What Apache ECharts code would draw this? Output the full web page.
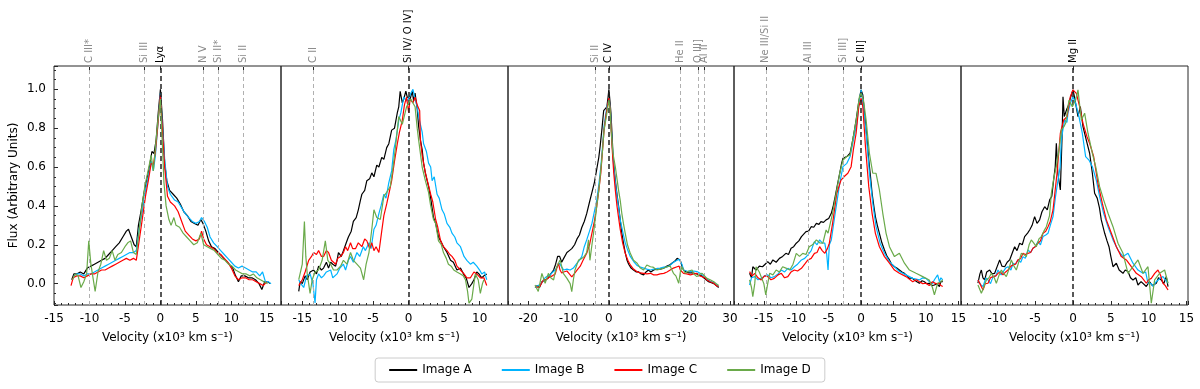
<!DOCTYPE html>
<html><head><meta charset="utf-8">
<script src="https://cdn.jsdelivr.net/npm/echarts@6/dist/echarts.min.js"></script>
<style>html,body{margin:0;padding:0;background:#fff}#c{width:1200px;height:389px}</style>
</head><body><div id="c"></div>
<script>
// ---------- data (velocity x10^3 km/s, normalised flux) ----------
const seriesNames = ['Image A','Image B','Image C','Image D'];
const seriesColors = ['#000000','#00b4ff','#ff0000','#6aaa4a'];

// Panel 1: Ly alpha
const p1A = [[-12.5,0.02],[-12.2,0.05],[-11.8,0.05],[-11.3,0.06],[-10.8,0.05],[-10.3,0.08],[-9.8,0.09],[-9.3,0.10],[-8.8,0.11],[-8.3,0.12],[-7.8,0.13],[-7.3,0.15],[-6.8,0.17],[-6.3,0.19],[-5.8,0.21],[-5.3,0.24],[-4.8,0.27],[-4.5,0.28],[-4.1,0.24],[-3.7,0.20],[-3.4,0.19],[-3.1,0.30],[-2.7,0.38],[-2.3,0.47],[-1.9,0.54],[-1.5,0.61],[-1.2,0.68],[-0.9,0.67],[-0.6,0.74],[-0.3,0.88],[0,1.0],[0.3,0.84],[0.6,0.62],[0.9,0.53],[1.3,0.48],[1.8,0.46],[2.3,0.44],[2.8,0.41],[3.3,0.37],[3.8,0.35],[4.3,0.32],[4.8,0.31],[5.3,0.30],[5.7,0.33],[6.0,0.31],[6.4,0.27],[6.8,0.22],[7.2,0.19],[7.7,0.18],[8.2,0.16],[8.7,0.14],[9.2,0.12],[9.7,0.10],[10.2,0.08],[10.6,0.04],[11.0,0.01],[11.4,0.04],[11.9,0.04],[12.4,0.03],[12.9,0.03],[13.4,0.02],[13.9,0.00],[14.3,-0.03],[14.7,0.01],[15.1,0.01],[15.5,0.00]];
const p1B = [[-12.2,0.04],[-11.8,0.05],[-11.3,0.05],[-10.8,0.04],[-10.3,0.05],[-9.8,0.05],[-9.3,0.06],[-8.8,0.07],[-8.3,0.08],[-7.8,0.09],[-7.3,0.10],[-6.8,0.11],[-6.3,0.12],[-5.8,0.13],[-5.3,0.14],[-4.8,0.15],[-4.3,0.16],[-3.8,0.16],[-3.4,0.17],[-3.0,0.28],[-2.6,0.36],[-2.1,0.48],[-1.7,0.55],[-1.3,0.63],[-1.0,0.58],[-0.7,0.66],[-0.4,0.80],[0,0.98],[0.3,0.80],[0.6,0.64],[1.0,0.50],[1.4,0.46],[2.0,0.43],[2.5,0.42],[3.0,0.39],[3.5,0.36],[4.0,0.34],[4.5,0.32],[5.0,0.31],[5.5,0.32],[5.8,0.34],[6.2,0.32],[6.6,0.29],[7.0,0.24],[7.5,0.21],[8.0,0.19],[8.5,0.17],[9.0,0.15],[9.5,0.13],[10.0,0.11],[10.5,0.09],[11.0,0.08],[11.5,0.09],[12.0,0.08],[12.5,0.07],[13.0,0.06],[13.5,0.06],[14.0,0.04],[14.4,0.06],[14.8,0.01],[15.2,0.01],[15.6,0.00]];
const p1C = [[-12.6,-0.01],[-12.3,0.03],[-11.8,0.04],[-11.3,0.04],[-10.8,0.03],[-10.3,0.04],[-9.8,0.05],[-9.3,0.05],[-8.8,0.06],[-8.3,0.07],[-7.8,0.07],[-7.3,0.08],[-6.8,0.09],[-6.3,0.10],[-5.8,0.11],[-5.3,0.12],[-4.8,0.13],[-4.3,0.12],[-3.8,0.13],[-3.4,0.12],[-3.0,0.22],[-2.6,0.32],[-2.1,0.45],[-1.7,0.53],[-1.3,0.62],[-1.0,0.61],[-0.7,0.68],[-0.4,0.80],[0,0.97],[0.3,0.78],[0.6,0.60],[1.0,0.45],[1.4,0.42],[2.0,0.40],[2.5,0.37],[3.0,0.32],[3.5,0.27],[4.0,0.25],[4.5,0.23],[5.0,0.22],[5.5,0.23],[5.8,0.27],[6.1,0.23],[6.5,0.20],[7.0,0.19],[7.5,0.18],[8.0,0.16],[8.5,0.15],[9.0,0.13],[9.5,0.11],[10.0,0.08],[10.5,0.04],[11.0,0.02],[11.5,0.03],[12.0,0.03],[12.5,0.02],[13.0,0.02],[13.5,0.01],[14.0,0.00],[14.5,-0.01],[15.0,0.01]];
const p1D = [[-12.4,0.02],[-12.0,0.05],[-11.6,0.04],[-11.2,-0.02],[-10.8,0.01],[-10.4,0.05],[-10.1,0.22],[-9.8,0.10],[-9.5,0.03],[-9.2,-0.04],[-8.8,0.06],[-8.4,0.10],[-8.0,0.17],[-7.6,0.12],[-7.2,0.13],[-6.8,0.17],[-6.4,0.12],[-6.0,0.15],[-5.5,0.16],[-5.0,0.19],[-4.6,0.21],[-4.2,0.22],[-3.8,0.16],[-3.4,0.15],[-3.0,0.27],[-2.6,0.40],[-2.2,0.50],[-1.8,0.57],[-1.3,0.66],[-1.0,0.58],[-0.7,0.70],[-0.4,0.82],[0,0.95],[0.3,0.70],[0.5,0.52],[0.8,0.40],[1.2,0.33],[1.5,0.30],[1.9,0.34],[2.2,0.30],[2.7,0.29],[3.2,0.26],[3.7,0.24],[4.2,0.22],[4.7,0.20],[5.2,0.21],[5.7,0.26],[6.1,0.20],[6.6,0.19],[7.1,0.18],[7.6,0.17],[8.1,0.15],[8.6,0.13],[9.1,0.12],[9.6,0.10],[10.1,0.09],[10.6,0.07],[11.1,0.06],[11.6,0.05],[12.1,0.05],[12.6,0.04],[13.1,0.05],[13.6,0.03],[14.1,0.02],[14.6,0.01],[15.1,0.00]];

// Panel 2: Si IV / O IV]
const p2A = [[-15.5,-0.04],[-15.3,0.01],[-15.0,0.0],[-14.6,0.04],[-14.3,0.02],[-13.9,0.06],[-13.4,0.07],[-13.0,0.05],[-12.7,0.09],[-12.3,0.07],[-12.0,0.08],[-11.6,0.11],[-11.3,0.08],[-11.0,0.11],[-10.7,0.10],[-10.3,0.09],[-10.1,0.12],[-9.9,0.16],[-9.5,0.14],[-9.2,0.17],[-8.8,0.21],[-8.5,0.24],[-8.1,0.27],[-7.8,0.32],[-7.4,0.34],[-7.1,0.38],[-6.8,0.43],[-6.6,0.46],[-6.2,0.48],[-5.9,0.53],[-5.5,0.54],[-5.2,0.57],[-4.9,0.55],[-4.5,0.61],[-4.2,0.60],[-3.8,0.65],[-3.5,0.64],[-3.1,0.70],[-2.8,0.72],[-2.4,0.79],[-2.0,0.80],[-1.6,0.88],[-1.4,0.91],[-1.2,0.99],[-0.9,0.93],[-0.7,0.95],[-0.4,0.99],[-0.2,0.96],[0.2,0.95],[0.5,0.99],[0.7,0.94],[0.9,0.98],[1.2,0.90],[1.4,0.81],[1.65,0.74],[1.9,0.69],[2.1,0.62],[2.35,0.57],[2.6,0.53],[2.8,0.50],[3.1,0.44],[3.5,0.34],[3.8,0.31],[4.2,0.24],[4.5,0.22],[4.9,0.19],[5.4,0.16],[5.9,0.12],[6.3,0.11],[6.8,0.07],[7.3,0.08],[7.8,0.045],[8.1,0.03],[8.5,-0.02],[8.9,0.0],[9.2,0.02],[9.6,0.06],[9.9,0.05],[10.3,0.03],[10.6,0.04],[11.0,0.05]];
const p2B = [[-15.5,0.02],[-15.2,0.0],[-14.8,-0.02],[-14.4,0.04],[-13.9,0.05],[-13.5,0.0],[-13.2,-0.10],[-13.0,0.02],[-12.7,0.05],[-12.3,0.03],[-12.0,0.04],[-11.6,0.06],[-11.0,0.07],[-10.7,0.03],[-10.1,0.05],[-9.7,0.08],[-9.2,0.10],[-8.9,0.07],[-8.5,0.12],[-8.2,0.14],[-7.8,0.11],[-7.3,0.16],[-6.9,0.14],[-6.4,0.19],[-6.1,0.17],[-5.6,0.21],[-5.3,0.18],[-4.9,0.28],[-4.6,0.30],[-4.2,0.36],[-3.9,0.40],[-3.5,0.46],[-3.2,0.44],[-2.8,0.52],[-2.4,0.58],[-2.1,0.69],[-1.8,0.74],[-1.4,0.84],[-1.1,0.88],[-0.7,0.96],[-0.3,0.94],[0,0.95],[0.3,0.98],[0.6,1.0],[0.9,0.95],[1.2,0.91],[1.4,0.86],[1.65,0.82],[1.9,0.78],[2.1,0.72],[2.5,0.68],[2.8,0.62],[3.1,0.60],[3.3,0.53],[3.6,0.55],[4.0,0.46],[4.3,0.44],[4.7,0.38],[5.0,0.36],[5.4,0.31],[5.8,0.29],[6.1,0.26],[6.5,0.24],[6.8,0.21],[7.3,0.19],[7.8,0.14],[8.2,0.12],[8.7,0.10],[9.1,0.11],[9.6,0.09],[10.0,0.07],[10.3,0.05],[10.7,0.06],[11.0,0.02]];
const p2C = [[-15.5,-0.01],[-15.0,0.02],[-14.6,0.06],[-14.1,0.12],[-13.7,0.14],[-13.4,0.16],[-13.0,0.15],[-12.7,0.17],[-12.3,0.14],[-12.0,0.14],[-11.6,0.17],[-11.3,0.16],[-10.9,0.12],[-10.3,0.10],[-10.0,0.13],[-9.6,0.14],[-9.2,0.16],[-8.9,0.19],[-8.6,0.17],[-8.2,0.21],[-7.9,0.18],[-7.5,0.18],[-7.1,0.21],[-6.6,0.19],[-6.2,0.23],[-5.9,0.22],[-5.5,0.18],[-5.2,0.21],[-4.9,0.17],[-4.6,0.19],[-4.2,0.16],[-3.8,0.27],[-3.5,0.35],[-3.1,0.41],[-2.8,0.46],[-2.4,0.53],[-2.0,0.63],[-1.6,0.72],[-1.3,0.78],[-0.9,0.84],[-0.6,0.92],[-0.3,0.96],[0.0,0.88],[0.2,0.95],[0.6,0.93],[0.9,0.96],[1.2,0.92],[1.55,0.89],[1.65,0.74],[1.9,0.66],[2.35,0.57],[2.7,0.52],[3.1,0.46],[3.4,0.42],[3.8,0.33],[4.1,0.29],[4.5,0.22],[4.9,0.19],[5.4,0.17],[5.8,0.15],[6.1,0.14],[6.5,0.12],[6.8,0.09],[7.3,0.07],[7.8,0.05],[8.2,0.03],[8.7,0.03],[9.2,0.06],[9.6,0.05],[10.1,0.03],[10.6,0.03],[11.0,-0.01]];
const p2D = [[-15.5,0.02],[-15.0,0.10],[-14.7,0.32],[-14.5,0.14],[-14.3,0.05],[-13.9,-0.05],[-13.6,0.02],[-13.2,0.06],[-12.7,0.07],[-12.2,0.12],[-11.75,0.22],[-11.4,0.12],[-11.0,0.10],[-10.6,0.07],[-10.1,0.07],[-9.6,0.09],[-9.2,0.12],[-8.7,0.10],[-8.2,0.16],[-7.8,0.12],[-7.3,0.10],[-6.8,0.08],[-6.35,0.02],[-6.0,0.10],[-5.6,0.16],[-5.2,0.28],[-4.9,0.38],[-4.5,0.34],[-4.0,0.33],[-3.5,0.45],[-3.1,0.47],[-2.6,0.50],[-2.2,0.60],[-1.9,0.69],[-1.4,0.86],[-0.9,0.82],[-0.5,0.88],[-0.3,0.91],[0.3,0.95],[0.6,0.93],[0.9,0.91],[1.2,0.80],[1.4,0.74],[1.9,0.60],[2.35,0.53],[2.8,0.47],[3.1,0.40],[3.5,0.33],[3.8,0.31],[4.2,0.22],[4.6,0.20],[4.9,0.16],[5.3,0.13],[5.6,0.10],[6.0,0.09],[6.35,0.07],[6.8,0.06],[7.3,0.05],[7.7,0.04],[8.0,0.02],[8.3,-0.04],[8.5,-0.10],[8.9,-0.08],[9.2,0.0],[9.4,0.05],[9.8,0.02],[10.1,-0.05],[10.4,0.0],[10.6,0.02]];

// Panel 3: C IV
const p3A = [[-18.3,-0.02],[-17.7,-0.01],[-17.2,-0.02],[-16.6,0.01],[-16.2,0.02],[-15.6,0.02],[-15.0,0.03],[-14.4,0.05],[-13.7,0.07],[-13.2,0.10],[-12.7,0.14],[-12.2,0.14],[-11.7,0.11],[-11.2,0.13],[-10.4,0.16],[-9.8,0.17],[-9.2,0.18],[-8.5,0.20],[-7.9,0.23],[-7.3,0.25],[-6.7,0.29],[-6.1,0.32],[-5.5,0.36],[-4.8,0.42],[-4.2,0.47],[-3.6,0.52],[-3.0,0.59],[-2.5,0.65],[-2.15,0.71],[-1.7,0.80],[-1.3,0.89],[-0.9,0.90],[-0.5,0.91],[-0.2,0.96],[0,1.0],[0.3,0.93],[0.5,0.88],[0.8,0.76],[1.0,0.67],[1.3,0.59],[1.6,0.53],[2.0,0.46],[2.4,0.40],[2.8,0.33],[3.2,0.26],[3.6,0.21],[4.05,0.16],[4.5,0.12],[4.9,0.10],[5.5,0.08],[6.1,0.07],[6.8,0.06],[7.4,0.06],[8.0,0.05],[8.6,0.045],[9.2,0.06],[9.8,0.07],[10.4,0.06],[11.1,0.07],[11.9,0.075],[12.7,0.075],[13.6,0.08],[14.4,0.09],[15.0,0.095],[15.6,0.105],[16.3,0.115],[16.9,0.13],[17.3,0.135],[17.7,0.12],[18.1,0.09],[18.5,0.07],[19.2,0.06],[19.8,0.055],[20.6,0.055],[21.0,0.055],[21.8,0.05],[22.3,0.045],[23.0,0.04],[23.5,0.03],[24.1,0.02],[24.7,0.01],[25.4,0.005],[26.0,0.0],[26.6,-0.01],[27.2,-0.02]];
const p3B = [[-18.3,-0.02],[-17.6,-0.01],[-17.0,-0.005],[-16.4,0.01],[-15.8,0.03],[-15.2,0.04],[-14.6,0.045],[-13.9,0.06],[-13.3,0.07],[-12.7,0.09],[-12.2,0.105],[-11.7,0.085],[-11.2,0.07],[-10.4,0.075],[-9.6,0.07],[-8.8,0.08],[-7.9,0.105],[-7.3,0.12],[-6.7,0.14],[-6.1,0.19],[-5.5,0.225],[-4.8,0.27],[-4.2,0.31],[-3.6,0.37],[-3.0,0.43],[-2.5,0.51],[-2.0,0.60],[-1.6,0.70],[-1.2,0.81],[-0.8,0.87],[-0.5,0.91],[-0.2,0.93],[0,0.95],[0.3,0.91],[0.5,0.84],[0.8,0.72],[1.2,0.60],[1.6,0.52],[2.0,0.45],[2.4,0.39],[2.8,0.33],[3.4,0.27],[4.05,0.21],[4.7,0.17],[5.3,0.14],[6.1,0.115],[6.9,0.095],[7.8,0.085],[8.6,0.08],[9.4,0.075],[10.3,0.07],[11.1,0.075],[11.9,0.078],[12.7,0.08],[13.6,0.085],[14.4,0.085],[15.2,0.095],[16.0,0.11],[16.9,0.12],[17.4,0.125],[17.7,0.12],[18.1,0.10],[18.5,0.07],[19.3,0.065],[20.2,0.062],[21.0,0.065],[21.8,0.062],[22.5,0.055],[23.1,0.045],[23.8,0.035],[24.3,0.022],[25.1,0.012],[26.0,0.005],[26.6,-0.005],[27.2,-0.015]];
const p3C = [[-18.3,-0.015],[-17.5,-0.02],[-17.0,-0.01],[-16.2,0.02],[-15.6,0.02],[-14.6,0.035],[-14.0,0.04],[-13.3,0.05],[-12.9,0.08],[-12.5,0.105],[-12.1,0.07],[-11.7,0.055],[-11.2,0.06],[-10.4,0.065],[-9.8,0.05],[-9.2,0.035],[-8.6,0.05],[-7.9,0.07],[-7.1,0.09],[-6.4,0.12],[-5.5,0.156],[-4.8,0.2],[-4.2,0.26],[-3.6,0.32],[-3.0,0.40],[-2.5,0.48],[-2.0,0.57],[-1.6,0.68],[-1.2,0.79],[-0.7,0.87],[-0.3,0.92],[0,0.955],[0.3,0.90],[0.5,0.82],[0.8,0.70],[1.2,0.57],[1.6,0.48],[2.0,0.40],[2.4,0.34],[2.8,0.28],[3.4,0.21],[4.05,0.156],[4.7,0.12],[5.3,0.096],[6.1,0.075],[6.9,0.062],[7.8,0.055],[8.6,0.053],[9.4,0.05],[10.3,0.053],[11.1,0.045],[11.9,0.045],[12.7,0.05],[13.6,0.053],[14.4,0.06],[15.2,0.07],[16.0,0.08],[16.9,0.087],[17.4,0.09],[17.7,0.07],[18.1,0.06],[18.5,0.053],[19.3,0.05],[20.2,0.045],[21.0,0.05],[21.8,0.053],[22.5,0.04],[23.1,0.036],[23.8,0.03],[24.3,0.019],[25.1,0.01],[26.0,0.002],[26.6,-0.01],[27.2,-0.015]];
const p3D = [[-18.3,-0.007],[-17.5,-0.04],[-16.6,0.053],[-15.8,0.002],[-15.0,0.053],[-14.4,0.03],[-13.7,0.019],[-13.3,0.06],[-12.9,0.087],[-12.1,0.122],[-11.7,0.09],[-11.3,0.053],[-10.4,0.027],[-10.0,0.03],[-9.6,0.0],[-9.2,-0.041],[-8.8,0.02],[-8.4,0.07],[-7.5,0.122],[-6.7,0.13],[-6.1,0.14],[-5.5,0.16],[-5.05,0.225],[-4.7,0.12],[-4.2,0.2],[-3.8,0.26],[-3.0,0.40],[-2.5,0.48],[-2.0,0.585],[-1.6,0.68],[-1.2,0.79],[-0.5,0.877],[0,0.945],[0.3,0.90],[0.5,0.80],[1.0,0.671],[1.6,0.60],[2.0,0.54],[2.4,0.48],[2.8,0.43],[3.2,0.362],[3.6,0.31],[4.05,0.259],[4.6,0.2],[5.3,0.156],[6.1,0.12],[7.0,0.105],[7.8,0.08],[8.6,0.07],[9.4,0.096],[10.3,0.087],[10.9,0.085],[11.9,0.07],[12.7,0.075],[13.6,0.079],[14.4,0.087],[15.2,0.09],[16.0,0.053],[16.6,0.04],[17.3,0.002],[17.7,0.06],[18.1,0.087],[18.5,0.08],[18.9,0.053],[19.8,0.065],[20.6,0.07],[21.0,0.05],[21.8,0.036],[22.6,0.05],[23.1,0.053],[23.7,0.04],[24.3,0.027],[25.1,0.02],[26.0,0.01],[26.6,0.0],[27.2,-0.01]];

// Panel 4: C III]
const p4A = [[-17.2,0.053],[-16.9,0.03],[-16.7,0.087],[-16.2,0.07],[-15.7,0.09],[-15.2,0.087],[-14.8,0.1],[-14.4,0.113],[-14.0,0.1],[-13.6,0.122],[-13.1,0.11],[-12.6,0.13],[-12.1,0.14],[-11.6,0.156],[-11.2,0.15],[-10.8,0.182],[-10.4,0.19],[-10.0,0.208],[-9.6,0.22],[-9.2,0.242],[-8.9,0.235],[-8.5,0.268],[-8.1,0.27],[-7.7,0.293],[-7.3,0.29],[-6.9,0.31],[-6.5,0.305],[-6.2,0.319],[-5.8,0.315],[-5.4,0.328],[-5.0,0.335],[-4.6,0.362],[-4.3,0.40],[-4.0,0.448],[-3.7,0.5],[-3.3,0.568],[-3.0,0.62],[-2.8,0.645],[-2.5,0.64],[-2.2,0.654],[-1.95,0.65],[-1.7,0.671],[-1.4,0.72],[-1.2,0.756],[-0.77,0.842],[-0.36,0.937],[0,0.997],[0.26,0.971],[0.67,0.825],[0.95,0.73],[1.18,0.636],[1.45,0.55],[1.69,0.465],[2.0,0.39],[2.2,0.345],[2.5,0.3],[2.82,0.259],[3.2,0.21],[3.6,0.173],[4.0,0.14],[4.37,0.122],[4.7,0.1],[5.14,0.087],[5.5,0.08],[5.9,0.07],[6.3,0.06],[6.68,0.053],[7.1,0.04],[7.45,0.027],[7.8,0.03],[8.22,0.019],[8.6,0.01],[8.99,0.002],[9.4,0.015],[9.76,0.01],[10.1,0.0],[10.5,0.002],[10.9,-0.01],[11.3,-0.007],[11.7,0.0],[12.07,-0.015],[12.3,0.01],[12.58,0.01]];
const p4B = [[-17.2,-0.007],[-16.9,0.03],[-16.4,0.036],[-15.9,0.02],[-15.4,0.027],[-14.9,0.04],[-14.4,0.045],[-13.9,0.03],[-13.4,0.036],[-12.8,0.05],[-12.3,0.07],[-11.8,0.06],[-11.3,0.079],[-10.8,0.07],[-10.3,0.087],[-9.8,0.1],[-9.2,0.122],[-8.7,0.13],[-8.2,0.148],[-7.7,0.17],[-7.2,0.216],[-6.8,0.2],[-6.4,0.225],[-6.0,0.21],[-5.6,0.208],[-5.3,0.15],[-5.1,0.07],[-4.9,0.2],[-4.6,0.225],[-4.0,0.362],[-3.3,0.516],[-2.8,0.602],[-2.2,0.619],[-1.7,0.654],[-1.2,0.739],[-0.67,0.825],[-0.26,0.945],[0,0.997],[0.36,0.911],[0.77,0.774],[1.28,0.568],[1.8,0.413],[2.3,0.293],[2.93,0.208],[3.6,0.156],[4.37,0.113],[5.14,0.087],[5.9,0.062],[6.9,0.045],[7.96,0.027],[8.99,0.019],[9.5,0.03],[10.0,0.027],[10.5,0.01],[11.0,0.0],[11.3,0.02],[11.8,0.045],[12.07,0.01],[12.3,0.03],[12.58,0.019]];
const p4C = [[-17.2,0.062],[-16.8,0.04],[-16.4,0.053],[-15.9,0.03],[-15.4,0.019],[-14.9,0.04],[-14.4,0.036],[-13.9,0.02],[-13.4,0.027],[-12.8,0.045],[-12.3,0.053],[-11.8,0.03],[-11.3,0.036],[-10.8,0.06],[-10.3,0.07],[-9.8,0.065],[-9.2,0.079],[-8.7,0.1],[-8.2,0.122],[-7.7,0.13],[-7.2,0.156],[-6.8,0.16],[-6.4,0.19],[-6.0,0.17],[-5.6,0.156],[-5.2,0.18],[-4.9,0.208],[-4.4,0.31],[-3.75,0.465],[-3.1,0.533],[-2.6,0.551],[-2.05,0.568],[-1.54,0.602],[-1.2,0.688],[-0.77,0.774],[-0.36,0.911],[0,0.954],[0.26,0.911],[0.67,0.705],[1.18,0.499],[1.69,0.362],[2.2,0.259],[2.82,0.19],[3.6,0.139],[4.37,0.105],[5.14,0.07],[5.9,0.053],[6.93,0.036],[7.96,0.01],[8.5,0.02],[8.99,0.01],[9.5,0.0],[10.0,0.002],[10.5,-0.01],[11.0,0.01],[11.5,0.0],[12.07,0.002],[12.3,-0.01],[12.58,-0.015]];
const p4D = [[-17.2,0.019],[-16.9,-0.02],[-16.7,-0.067],[-16.4,0.0],[-16.2,0.087],[-15.7,0.06],[-15.4,0.053],[-15.0,0.0],[-14.7,-0.058],[-14.4,0.0],[-14.1,0.053],[-13.6,0.045],[-13.1,0.07],[-12.6,0.06],[-12.1,0.087],[-11.6,0.08],[-11.0,0.07],[-10.5,0.1],[-10.0,0.156],[-9.5,0.14],[-9.0,0.156],[-8.5,0.15],[-8.0,0.19],[-7.5,0.2],[-6.9,0.225],[-6.4,0.21],[-5.9,0.208],[-5.4,0.276],[-5.1,0.26],[-4.9,0.259],[-4.4,0.362],[-3.85,0.465],[-3.3,0.568],[-2.8,0.636],[-2.2,0.654],[-1.7,0.662],[-1.2,0.756],[-0.67,0.859],[-0.26,0.962],[0,0.979],[0.36,0.945],[0.77,0.842],[1.28,0.671],[1.8,0.568],[2.3,0.568],[2.82,0.482],[3.34,0.362],[3.85,0.259],[4.37,0.19],[5.14,0.139],[5.9,0.156],[6.68,0.105],[7.45,0.07],[8.47,0.053],[9.5,0.036],[10.5,0.019],[11.0,-0.02],[11.3,-0.058],[11.8,0.002],[12.3,0.01],[12.58,0.019]];

// Panel 5: Mg II
const p5A = [[-12.56,0.002],[-12.3,0.05],[-12.11,0.07],[-11.9,0.03],[-11.67,0.019],[-11.4,0.06],[-11.01,0.07],[-10.7,0.05],[-10.35,0.053],[-10.0,0.09],[-9.69,0.122],[-9.4,0.09],[-9.03,0.087],[-8.7,0.11],[-8.37,0.122],[-8.0,0.16],[-7.71,0.19],[-7.4,0.17],[-7.05,0.208],[-6.7,0.2],[-6.39,0.242],[-6.0,0.26],[-5.73,0.276],[-5.4,0.3],[-5.07,0.345],[-4.75,0.31],[-4.41,0.328],[-4.1,0.37],[-3.74,0.396],[-3.4,0.38],[-3.08,0.431],[-2.8,0.45],[-2.56,0.533],[-2.35,0.6],[-2.2,0.722],[-2.0,0.568],[-1.67,0.482],[-1.45,0.75],[-1.32,0.962],[-1.15,0.86],[-0.97,0.859],[-0.8,0.9],[-0.66,0.911],[-0.35,0.954],[-0.15,0.98],[0,0.997],[0.2,0.96],[0.35,0.928],[0.66,0.859],[0.97,0.911],[1.32,0.808],[1.76,0.739],[2.2,0.671],[2.56,0.568],[2.86,0.465],[3.2,0.44],[3.5,0.39],[3.74,0.328],[4.19,0.259],[4.5,0.22],[4.76,0.19],[5.0,0.14],[5.29,0.087],[5.73,0.105],[6.1,0.07],[6.61,0.053],[6.9,0.07],[7.27,0.062],[7.6,0.03],[7.93,0.019],[8.3,0.03],[8.59,-0.007],[9.0,0.01],[9.25,0.01],[9.69,-0.015],[10.1,0.01],[10.5,-0.01],[11.01,0.002],[11.3,0.03],[11.67,0.019],[12.0,0.0],[12.33,0.036],[12.56,-0.015]];
const p5B = [[-12.56,0.019],[-12.2,-0.005],[-11.89,-0.015],[-11.5,0.03],[-11.23,0.019],[-10.9,0.0],[-10.57,0.036],[-10.2,0.04],[-9.91,0.07],[-9.5,0.045],[-9.25,0.053],[-8.9,0.08],[-8.59,0.087],[-8.2,0.07],[-7.93,0.105],[-7.6,0.1],[-7.27,0.122],[-6.9,0.11],[-6.61,0.139],[-6.3,0.13],[-5.95,0.173],[-5.6,0.16],[-5.29,0.182],[-5.0,0.19],[-4.63,0.216],[-4.3,0.2],[-3.96,0.242],[-3.6,0.25],[-3.3,0.259],[-3.0,0.3],[-2.64,0.345],[-2.3,0.45],[-1.98,0.533],[-1.7,0.6],[-1.54,0.739],[-1.3,0.8],[-1.1,0.842],[-0.8,0.83],[-0.66,0.877],[-0.35,0.928],[0,0.962],[0.35,0.928],[0.79,0.859],[1.23,0.774],[1.67,0.654],[2.11,0.636],[2.56,0.602],[3.08,0.533],[3.52,0.448],[4.05,0.362],[4.63,0.293],[5.29,0.225],[5.95,0.173],[6.61,0.139],[7.27,0.156],[7.93,0.105],[8.59,0.07],[9.25,0.053],[9.6,0.06],[9.91,0.002],[10.35,0.0],[10.57,-0.015],[11.0,0.01],[11.23,0.019],[11.6,0.03],[11.89,0.036],[12.2,0.02],[12.56,0.002]];
const p5C = [[-12.56,0.019],[-12.3,0.0],[-11.89,-0.033],[-11.6,0.0],[-11.23,0.002],[-10.9,0.03],[-10.57,0.036],[-10.2,0.04],[-9.91,0.053],[-9.6,0.06],[-9.25,0.045],[-8.9,0.06],[-8.59,0.07],[-8.2,0.09],[-7.93,0.096],[-7.6,0.1],[-7.27,0.122],[-6.9,0.13],[-6.61,0.156],[-6.3,0.15],[-5.95,0.156],[-5.6,0.16],[-5.29,0.182],[-5.0,0.19],[-4.63,0.208],[-4.3,0.22],[-3.96,0.259],[-3.6,0.27],[-3.3,0.293],[-3.0,0.32],[-2.64,0.379],[-2.11,0.568],[-1.67,0.774],[-1.23,0.842],[-0.79,0.859],[-0.35,0.962],[0,0.997],[0.44,0.979],[0.88,0.911],[1.32,0.825],[1.85,0.756],[2.2,0.722],[2.73,0.654],[3.3,0.516],[3.88,0.413],[4.41,0.328],[5.07,0.259],[5.73,0.19],[6.39,0.139],[7.05,0.122],[7.71,0.087],[8.37,0.053],[9.03,0.036],[9.69,0.002],[10.0,0.02],[10.35,0.027],[10.8,0.053],[11.23,0.07],[11.6,0.04],[11.89,0.002],[12.2,-0.01],[12.56,-0.033]];
const p5D = [[-12.56,-0.007],[-12.11,-0.05],[-11.8,-0.02],[-11.45,0.019],[-11.1,0.03],[-10.79,0.053],[-10.4,0.03],[-10.13,0.002],[-9.8,0.04],[-9.47,0.07],[-9.1,0.05],[-8.81,0.036],[-8.5,0.07],[-8.15,0.122],[-7.8,0.09],[-7.49,0.07],[-7.1,0.12],[-6.83,0.156],[-6.5,0.15],[-6.17,0.139],[-5.8,0.2],[-5.51,0.225],[-5.2,0.21],[-4.85,0.19],[-4.5,0.23],[-4.19,0.242],[-3.85,0.27],[-3.52,0.293],[-3.1,0.35],[-2.86,0.465],[-2.5,0.55],[-2.2,0.602],[-1.8,0.7],[-1.54,0.791],[-1.2,0.808],[-0.97,0.825],[-0.53,0.945],[-0.09,0.911],[0.35,0.945],[0.66,0.997],[1.1,0.842],[1.54,0.877],[1.98,0.774],[2.56,0.671],[3.0,0.602],[3.52,0.499],[4.05,0.431],[4.63,0.362],[5.29,0.293],[5.95,0.208],[6.61,0.156],[7.27,0.053],[7.93,0.087],[8.59,0.122],[9.25,0.053],[9.91,0.087],[10.35,-0.101],[10.79,0.019],[11.45,0.053],[12.11,0.07],[12.56,0.002]];

// line identifications per panel: positions and names (main line last)
const p1LineX = [-10.0, -2.3, 6.0, 8.2, 11.7, 0];
const p1LineNames = ['C III*', 'Si III', 'N V', 'Si II*', 'Si II', 'Ly\u03b1'];
const p2LineX = [-13.4, 0];
const p2LineNames = ['C II', 'Si IV/ O IV]'];
const p3LineX = [-3.4, 17.7, 22.2, 23.6, 0];
const p3LineNames = ['Si II', 'He II', 'O III]', 'Al II', 'C IV'];
const p4LineX = [-14.7, -8.1, -2.7, 0];
const p4LineNames = ['Ne III/Si II', 'Al III', 'Si III]', 'C III]'];
const p5LineX = [0];
const p5LineNames = ['Mg II'];

// axis ranges and tick labels
const xRanges = [[-15, 17], [-18, 14], [-25, 31], [-19.6, 15.4], [-14.8, 15.2]];
const xTickSteps = [5, 5, 10, 5, 5];
const yRange = [-0.11, 1.12];
const yTickStep = 0.2;
const xAxisTitle = 'Velocity (x10\u00b3 km s\u207b\u00b9)';
const yAxisTitle = 'Flux (Arbitrary Units)';

// ---------- build chart ----------
const panels = [
  {data: [p1A, p1B, p1C, p1D], lx: p1LineX, ln: p1LineNames},
  {data: [p2A, p2B, p2C, p2D], lx: p2LineX, ln: p2LineNames},
  {data: [p3A, p3B, p3C, p3D], lx: p3LineX, ln: p3LineNames},
  {data: [p4A, p4B, p4C, p4D], lx: p4LineX, ln: p4LineNames},
  {data: [p5A, p5B, p5C, p5D], lx: p5LineX, ln: p5LineNames}
];
const gridLefts = [54, 281, 508, 734, 961];
const gridWidths = [227, 227, 226, 227, 227];
const FONT = 'DejaVu Sans';
const AX = '#262626';

const grids = [], xAxes = [], yAxes = [], series = [];
panels.forEach((p, i) => {
  grids.push({left: gridLefts[i], width: gridWidths[i], top: 66, height: 239,
    show: true, borderColor: AX, borderWidth: 1, backgroundColor: 'transparent'});
  const step = xTickSteps[i];
  // bottom axis
  xAxes.push({type: 'value', gridIndex: i, position: 'bottom', min: xRanges[i][0], max: xRanges[i][1], splitNumber: 6,
    name: xAxisTitle, nameLocation: 'middle', nameGap: 27,
    nameTextStyle: {fontFamily: FONT, fontSize: 12, color: '#000'},
    axisLine: {show: false, onZero: false}, splitLine: {show: false},
    axisTick: {show: true, inside: true, length: 4, lineStyle: {color: AX}},
    minorTick: {show: true, splitNumber: 5, length: 2, lineStyle: {color: AX}},
    axisLabel: {fontFamily: FONT, fontSize: 12, color: '#000', margin: 8,
      showMinLabel: true, showMaxLabel: true,
      formatter: v => (Math.abs(v / step - Math.round(v / step)) < 1e-6) ? String(Math.round(v)) : ''}
  });
  // top axis: line identifications
  const lx = p.lx, ln = p.ln, mainIdx = lx.length - 1;
  xAxes.push({type: 'value', gridIndex: i, position: 'top', min: xRanges[i][0], max: xRanges[i][1],
    axisLine: {show: false, onZero: false}, splitLine: {show: false},
    axisTick: {show: true, inside: true, length: 4, customValues: lx, lineStyle: {color: AX}},
    axisLabel: {show: true, rotate: -90, margin: 3, customValues: lx, fontFamily: FONT, fontSize: 10,
      showMinLabel: true, showMaxLabel: true, hideOverlap: false,
      formatter: v => {
        let k = 0, best = 1e9;
        lx.forEach((x, j) => { if (Math.abs(x - v) < best) { best = Math.abs(x - v); k = j; } });
        return k === mainIdx ? '{m|' + ln[k] + '}' : '{g|' + ln[k] + '}';
      },
      rich: {m: {color: '#000', fontSize: 10, fontFamily: FONT}, g: {color: '#8a8a8a', fontSize: 10, fontFamily: FONT}}
    }
  });
  yAxes.push({type: 'value', gridIndex: i, min: yRange[0], max: yRange[1], splitNumber: 6,
    name: i === 0 ? yAxisTitle : '', nameLocation: 'middle', nameGap: 34,
    nameTextStyle: {fontFamily: FONT, fontSize: 12, color: '#000'},
    axisLine: {show: false, onZero: false}, splitLine: {show: false},
    axisTick: {show: i === 0, inside: true, length: 4, lineStyle: {color: AX}},
    minorTick: {show: i === 0, splitNumber: 4, length: 2, lineStyle: {color: AX}},
    axisLabel: {show: i === 0, fontFamily: FONT, fontSize: 12, color: '#000', margin: 8,
      formatter: v => (Math.abs(v / yTickStep - Math.round(v / yTickStep)) < 1e-6) ? (Math.round(v / yTickStep) * yTickStep).toFixed(1) : ''}
  });
  const xb = 2 * i;
  // grey reference lines (behind data)
  series.push({type: 'line', xAxisIndex: xb, yAxisIndex: i, data: [], z: 1, silent: true,
    markLine: {symbol: 'none', silent: true, animation: false, label: {show: false},
      lineStyle: {color: '#b0b0b0', type: [4, 3], width: 1},
      data: lx.slice(0, mainIdx).map(x => ({xAxis: x}))}
  });
  p.data.forEach((d, s) => {
    series.push({name: seriesNames[s], type: 'line', xAxisIndex: xb, yAxisIndex: i, data: d,
      showSymbol: false, symbol: 'none', z: 2 + s, color: seriesColors[s],
      lineStyle: {width: 1.2, color: seriesColors[s]}});
  });
  // main line (on top)
  series.push({type: 'line', xAxisIndex: xb, yAxisIndex: i, data: [], z: 10, silent: true,
    markLine: {symbol: 'none', silent: true, animation: false, label: {show: false},
      lineStyle: {color: '#222', type: [5, 3], width: 1.5},
      data: [{xAxis: lx[mainIdx]}]}
  });
});

const chart = echarts.init(document.getElementById('c'), null, {renderer: 'canvas'});
chart.setOption({
  animation: false,
  backgroundColor: '#fff',
  textStyle: {fontFamily: FONT},
  grid: grids, xAxis: xAxes, yAxis: yAxes, series: series,
  legend: {data: seriesNames, top: 358, left: 'center', icon: 'rect', itemWidth: 28, itemHeight: 2,
    itemGap: 30, padding: [6, 14, 6, 14], borderColor: '#cccccc', borderWidth: 1, borderRadius: 3,
    textStyle: {fontFamily: FONT, fontSize: 12, color: '#000'}}
});
</script>
</body></html>
